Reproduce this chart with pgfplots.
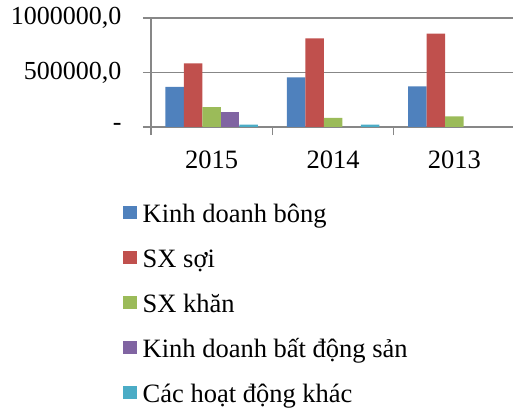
\documentclass[border=0pt]{standalone}
\usepackage{fontspec}
\setmainfont{Liberation Serif}
\usepackage{pgfplots}
\pgfplotsset{compat=1.18}
\definecolor{cblue}{HTML}{4F81BD}
\definecolor{cred}{HTML}{C0504D}
\definecolor{cgreen}{HTML}{9BBB59}
\definecolor{cpurple}{HTML}{8064A2}
\definecolor{ccyan}{HTML}{4BACC6}
\definecolor{gridgray}{HTML}{878787}
\begin{document}
\begin{tikzpicture}[x=1pt,y=1pt]
\useasboundingbox (0,0) rectangle (513,414);
\begin{axis}[
  at={(151pt,287pt)}, anchor=south west,
  scale only axis, width=364pt, height=109pt,
  xmin=-0.5, xmax=2.5, ymin=0, ymax=1000000,
  ybar=0pt, bar width=18.5pt,
  axis x line*=bottom, axis y line*=left,
  axis line style={-, draw=gridgray, line width=1.2pt},
  ymajorgrids, grid style={draw=gridgray, line width=1.2pt},
  tick align=outside, major tick length=8pt,
  tick style={draw=gridgray, line width=1.2pt},
  xtick={-0.5,0.5,1.5,2.5}, x tick label as interval,
  xticklabels={2015,2014,2013},
  ytick={0,500000,1000000},
  yticklabels={{-},{500000,0},{1000000,0}},
  scaled y ticks=false,
  /pgf/number format/assume math mode=true,
  x tick label style={font=\fontsize{26.5}{30}\selectfont, text=black, yshift=-12pt},
  y tick label style={font=\fontsize{26}{30}\selectfont, text=black, anchor=east, xshift=-18pt},
  legend style={at={(-0.0769,-0.7064)}, anchor=north west, draw=none, fill=none,
    inner sep=0pt, row sep=21pt, column sep=6pt,
    nodes={inner sep=0pt, text height=18pt, text depth=6pt, anchor=base west, font=\fontsize{26.5}{30}\selectfont}},
  legend cell align=left,
  legend image code/.code={\fill[#1] (0pt,3pt) rectangle (13.5pt,16.5pt);},
]
\addplot[fill=cblue, draw=none] coordinates {(0,367000) (1,455000) (2,372000)};
\addplot[fill=cred, draw=none] coordinates {(0,583000) (1,813000) (2,856000)};
\addplot[fill=cgreen, draw=none] coordinates {(0,183000) (1,83000) (2,97000)};
\addplot[fill=cpurple, draw=none] coordinates {(0,140000)};
\addplot[fill=ccyan, draw=none] coordinates {(0,21000) (1,21000)};
\legend{Kinh doanh bông, SX sợi, SX khăn, Kinh doanh bất động sản, Các hoạt động khác}
\end{axis}
\end{tikzpicture}
\end{document}
